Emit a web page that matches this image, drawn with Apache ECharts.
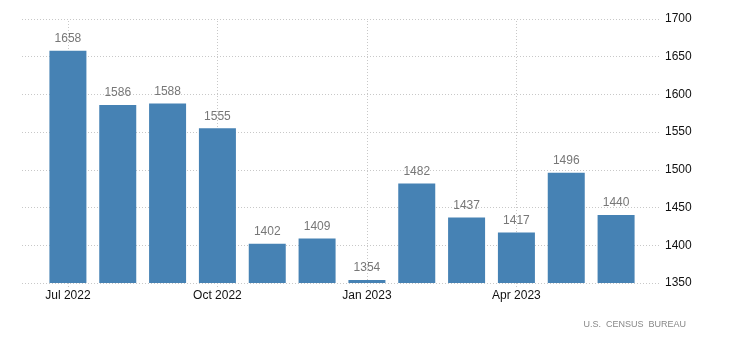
<!DOCTYPE html>
<html>
<head>
<meta charset="utf-8">
<script src="https://cdn.jsdelivr.net/npm/echarts@6/dist/echarts.min.js"></script>
<style>
  html, body { margin: 0; padding: 0; background: #fff; }
  #main { width: 730px; height: 351px; }
</style>
</head>
<body>
<div id="main"></div>
<script>
var months = ['Jul 2022', 'Aug 2022', 'Sep 2022', 'Oct 2022', 'Nov 2022', 'Dec 2022',
              'Jan 2023', 'Feb 2023', 'Mar 2023', 'Apr 2023', 'May 2023', 'Jun 2023'];
var values = [1658, 1586, 1588, 1555, 1402, 1409, 1354, 1482, 1437, 1417, 1496, 1440];
var labelledMonths = ['Jul 2022', 'Oct 2022', 'Jan 2023', 'Apr 2023'];
var yMin = 1350, yMax = 1700, yStep = 50;

var chart = echarts.init(document.getElementById('main'));

var dotted = { color: '#c8c8c8', type: [1, 2], width: 1 };
var font = 'Arial, "Liberation Sans", sans-serif';

chart.setOption({
  animation: false,
  grid: [
    // wide grid: horizontal lines + right labels
    { left: 22, right: 70, top: 19, bottom: 68 },
    // inner grid: bars
    { left: 43, right: 89, top: 19, bottom: 68 }
  ],
  xAxis: [
    { gridIndex: 0, type: 'value', show: false, min: 0, max: 1 },
    {
      gridIndex: 1,
      type: 'category',
      data: months,
      axisLine: { show: false },
      axisTick: { show: true, alignWithLabel: true, interval: 2, length: 4, lineStyle: dotted },
      axisLabel: { interval: 2, color: '#111', fontSize: 12, fontFamily: font, margin: 7 },
      splitLine: { show: false }
    }
  ],
  yAxis: [
    {
      gridIndex: 0,
      type: 'value',
      position: 'right',
      min: yMin, max: yMax, interval: yStep,
      axisLine: { show: false },
      axisTick: { show: false },
      axisLabel: { color: '#111', fontSize: 12, fontFamily: font, margin: 5,
                   formatter: function (v) { return String(v); } },
      splitLine: { show: true, lineStyle: dotted }
    },
    {
      gridIndex: 1,
      type: 'value',
      show: false,
      min: yMin, max: yMax, interval: yStep,
      splitLine: { show: false }
    }
  ],
  series: [{
    type: 'bar',
    xAxisIndex: 1,
    yAxisIndex: 1,
    data: values,
    barWidth: 37,
    z: 3,
    itemStyle: { color: '#4682b4' },
    label: {
      show: true,
      position: 'top',
      distance: 6,
      color: '#777',
      fontSize: 12,
      fontFamily: font
    },
    markLine: {
      silent: true,
      symbol: 'none',
      z: 1,
      label: { show: false },
      lineStyle: dotted,
      data: labelledMonths.map(function (m) { return { xAxis: m }; })
    }
  }],
  graphic: [{
    type: 'text',
    right: 44,
    top: 320,
    style: {
      text: 'U.S.  CENSUS  BUREAU',
      fill: '#888',
      fontSize: 9,
      fontFamily: font
    }
  }]
});
</script>
</body>
</html>
